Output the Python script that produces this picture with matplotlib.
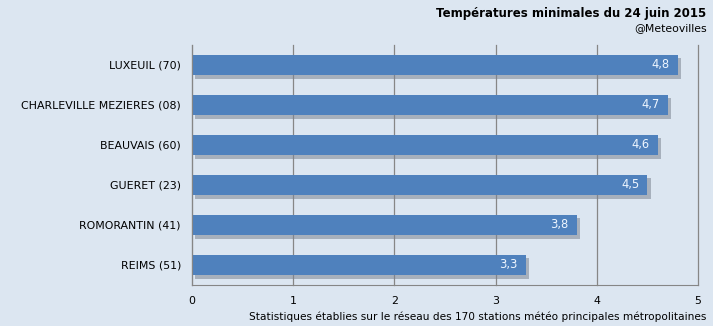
import matplotlib.pyplot as plt
import matplotlib.patheffects as pe

stations = ["LUXEUIL (70)", "CHARLEVILLE MEZIERES (08)", "BEAUVAIS (60)",
            "GUERET (23)", "ROMORANTIN (41)", "REIMS (51)"]
values = [4.8, 4.7, 4.6, 4.5, 3.8, 3.3]
labels = ["4,8", "4,7", "4,6", "4,5", "3,8", "3,3"]

bg = "#dce6f1"
fig = plt.figure(figsize=(7.13, 3.26), dpi=100, facecolor=bg)
ax = fig.add_axes([0.2693, 0.126, 0.7097, 0.736], facecolor=bg)

ypos = list(range(len(stations)))[::-1]
bars = ax.barh(ypos, values, height=0.52, color="#4f81bd", zorder=3)
for b in bars:
    b.set_path_effects([pe.SimplePatchShadow(offset=(2.5, -2.5), shadow_rgbFace="#7d8591", alpha=0.55),
                        pe.Normal()])

for y, v, t in zip(ypos, values, labels):
    ax.text(v - 0.08, y, t, ha="right", va="center", color="#eef6ff",
            fontsize=8.3, zorder=4)

ax.set_xlim(0, 5)
ax.set_ylim(-0.5, 5.5)
ax.set_xticks([0, 1, 2, 3, 4, 5])
ax.set_yticks(ypos)
ax.set_yticklabels(stations)
ax.grid(axis="x", color="#868686", linewidth=0.9, zorder=0)
for gl in ax.get_xgridlines():
    gl.set_clip_on(False)
for s in ["top", "right"]:
    ax.spines[s].set_visible(False)
for s in ["left", "bottom"]:
    ax.spines[s].set_color("#868686")
    ax.spines[s].set_zorder(5)
ax.tick_params(length=0, labelsize=7.9, colors="black", pad=8)
ax.tick_params(axis="x", pad=8)

fig.text(0.991, 0.978, "Températures minimales du 24 juin 2015", ha="right", va="top",
         fontsize=8.5, fontweight="bold")
fig.text(0.991, 0.928, "@Meteovilles", ha="right", va="top", fontsize=7.8)
fig.text(0.991, 0.012, "Statistiques établies sur le réseau des 170 stations météo principales métropolitaines",
         ha="right", va="bottom", fontsize=7.6)

fig.savefig("out.png", dpi=100, facecolor=bg)
